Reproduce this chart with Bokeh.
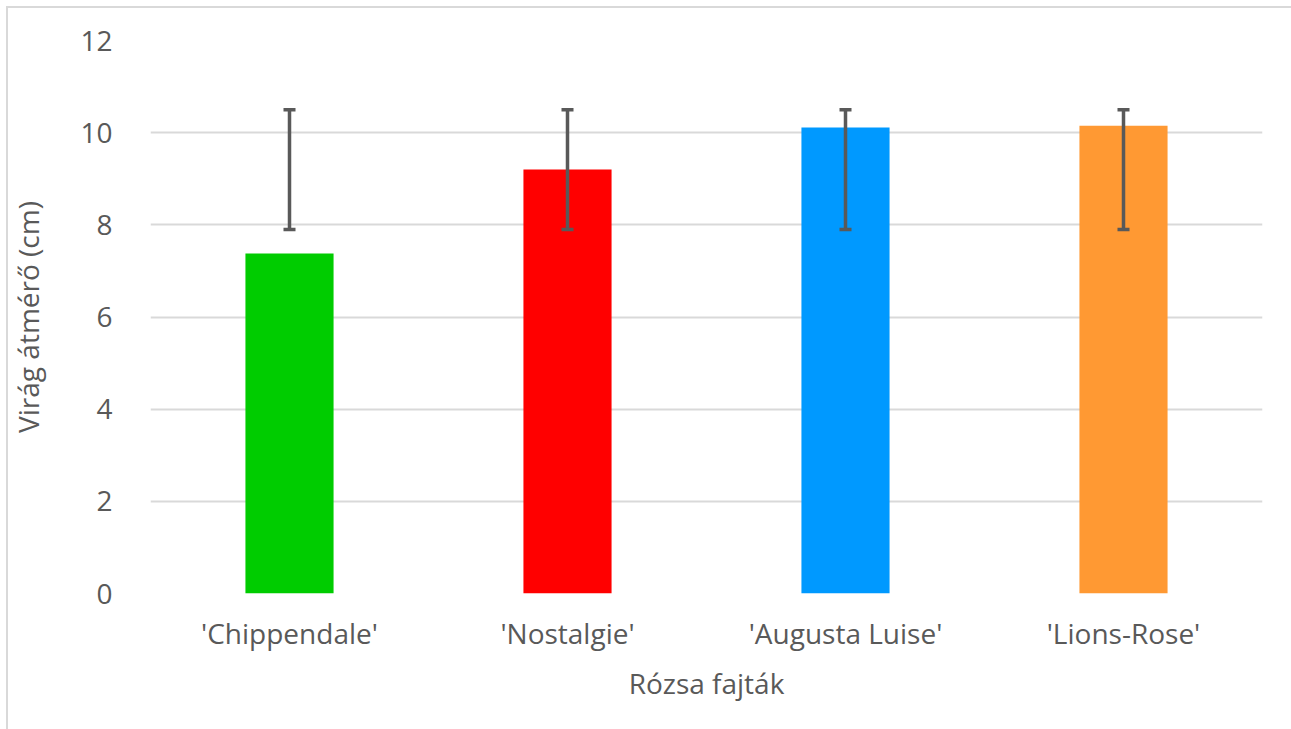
from bokeh.plotting import figure
from bokeh.models import ColumnDataSource, Whisker, TeeHead, FactorRange, FixedTicker
from bokeh.embed import file_html
from bokeh.resources import INLINE

categories = ["'Chippendale'", "'Nostalgie'", "'Augusta Luise'", "'Lions-Rose'"]
values = [7.38, 9.20, 10.11, 10.15]
err_lower = [7.9, 7.9, 7.9, 7.9]
err_upper = [10.5, 10.5, 10.5, 10.5]
colors = ["#00CC00", "#FF0000", "#0099FF", "#FF9933"]
y_ticks = [0, 2, 4, 6, 8, 10, 12]

src = ColumnDataSource(dict(cat=categories, val=values, lo=err_lower, hi=err_upper, col=colors))

FONT = "Open Sans"
TXT = "#595959"

p = figure(x_range=FactorRange(*categories, range_padding=0), y_range=(0, 12),
           width=1291, height=729, output_backend="svg", toolbar_location=None,
           min_border_left=150, min_border_right=29, min_border_top=40, min_border_bottom=136)
p.border_fill_color = None
p.background_fill_color = "white"
p.styles = {"background": "linear-gradient(#d9d9d9,#d9d9d9) 6px 6px / 2px 100% no-repeat, "
                          "linear-gradient(#d9d9d9,#d9d9d9) 6px 6px / 100% 2px no-repeat, white"}

p.vbar(x="cat", top="val", width=0.317, color="col", source=src, line_color=None)

w = Whisker(base="cat", lower="lo", upper="hi", source=src, line_color="#595959", line_width=3.5,
            upper_head=TeeHead(size=12, line_color="#595959", line_width=3.5),
            lower_head=TeeHead(size=12, line_color="#595959", line_width=3.5),
            level="overlay")
p.add_layout(w)

p.outline_line_color = None
p.xgrid.grid_line_color = None
p.ygrid.grid_line_color = "#d9d9d9"
p.ygrid.grid_line_width = 2
p.yaxis.ticker = FixedTicker(ticks=y_ticks)

for ax in (p.xaxis[0], p.yaxis[0]):
    ax.axis_line_color = None
    ax.major_tick_line_color = None
    ax.minor_tick_line_color = None
    ax.major_label_text_font = FONT
    ax.major_label_text_color = TXT
    ax.major_label_text_font_size = "28px"
    ax.axis_label_text_font = FONT
    ax.axis_label_text_color = TXT
    ax.axis_label_text_font_size = "28px"
    ax.axis_label_text_font_style = "normal"

p.xaxis.axis_label = "Rózsa fajták"
p.yaxis.axis_label = "Virág átmérő (cm)"
p.yaxis.major_label_standoff = 32
p.xaxis.major_label_standoff = 14
p.xaxis.axis_label_standoff = 9
p.yaxis.axis_label_standoff = 30

open("out.html", "w").write(file_html(p, INLINE))
